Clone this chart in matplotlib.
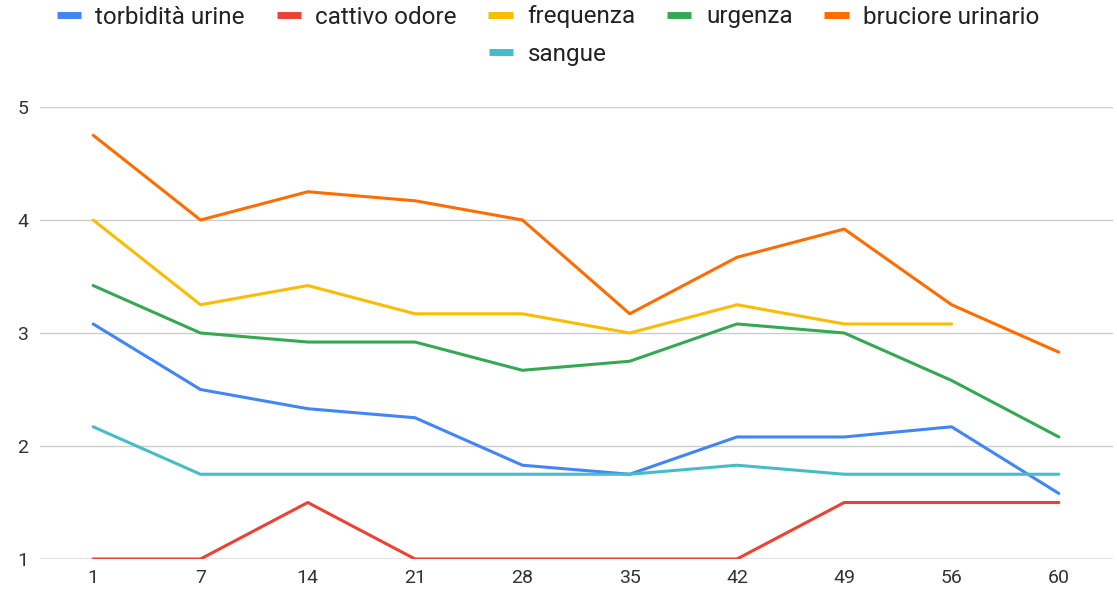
import matplotlib.pyplot as plt
from matplotlib.lines import Line2D

plt.rcParams['font.family'] = ['Roboto', 'DejaVu Sans']

# Data
giorni = ['1', '7', '14', '21', '28', '35', '42', '49', '56', '60']
torbidita = [3.08, 2.5, 2.33, 2.25, 1.83, 1.75, 2.08, 2.08, 2.17, 1.58]
cattivo_odore = [1, 1, 1.5, 1, 1, 1, 1, 1.5, 1.5, 1.5]
frequenza = [4.0, 3.25, 3.42, 3.17, 3.17, 3.0, 3.25, 3.08, 3.08, None]
urgenza = [3.42, 3.0, 2.92, 2.92, 2.67, 2.75, 3.08, 3.0, 2.58, 2.08]
bruciore = [4.75, 4.0, 4.25, 4.17, 4.0, 3.17, 3.67, 3.92, 3.25, 2.83]
sangue = [2.17, 1.75, 1.75, 1.75, 1.75, 1.75, 1.83, 1.75, 1.75, 1.75]

serie = [
    ('torbidità urine', torbidita, '#4285F4'),
    ('cattivo odore', cattivo_odore, '#EA4335'),
    ('frequenza', frequenza, '#FBBC04'),
    ('urgenza', urgenza, '#34A853'),
    ('bruciore urinario', bruciore, '#FF6D01'),
    ('sangue', sangue, '#46BDC6'),
]

fig = plt.figure(figsize=(11.17, 5.96), dpi=100)
ax = fig.add_axes([39.5 / 1117, 37 / 596, 1073 / 1117, 452 / 596])

x = list(range(len(giorni)))
for nome, vals, col in serie:
    xs = [i for i, v in zip(x, vals) if v is not None]
    ys = [v for v in vals if v is not None]
    ax.plot(xs, ys, color=col, lw=2.2, solid_capstyle='round', zorder=3)

ax.set_xlim(-0.5, len(giorni) - 0.5)
ax.set_ylim(1, 5)
ax.set_yticks([1, 2, 3, 4, 5])
ax.set_xticks(x)
ax.set_xticklabels(giorni)
ax.grid(axis='y', color='#cccccc', lw=1)
ax.axhline(1, color='#999999', lw=1, zorder=2)
ax.tick_params(length=0, labelsize=14, labelcolor='#333333')
ax.tick_params(axis='x', pad=7)
ax.tick_params(axis='y', pad=16)
for lbl in ax.get_yticklabels():
    lbl.set_horizontalalignment('left')
for s in ax.spines.values():
    s.set_visible(False)

def handle(col):
    return Line2D([], [], color=col, lw=5, solid_capstyle='butt')

kw = dict(frameon=False, fontsize=17.5, handlelength=1.0, handletextpad=0.6,
          columnspacing=1.3, labelcolor='#222222')
cx = 548 / 1117
fig.legend([handle(c) for _, _, c in serie[:5]], [n for n, _, _ in serie[:5]],
           loc='center', bbox_to_anchor=(cx, 1 - 17 / 596), ncol=5, **kw)
fig.legend([handle(serie[5][2])], [serie[5][0]],
           loc='center', bbox_to_anchor=(cx, 1 - 54 / 596), ncol=1, **kw)

fig.savefig('out.png', dpi=100)
